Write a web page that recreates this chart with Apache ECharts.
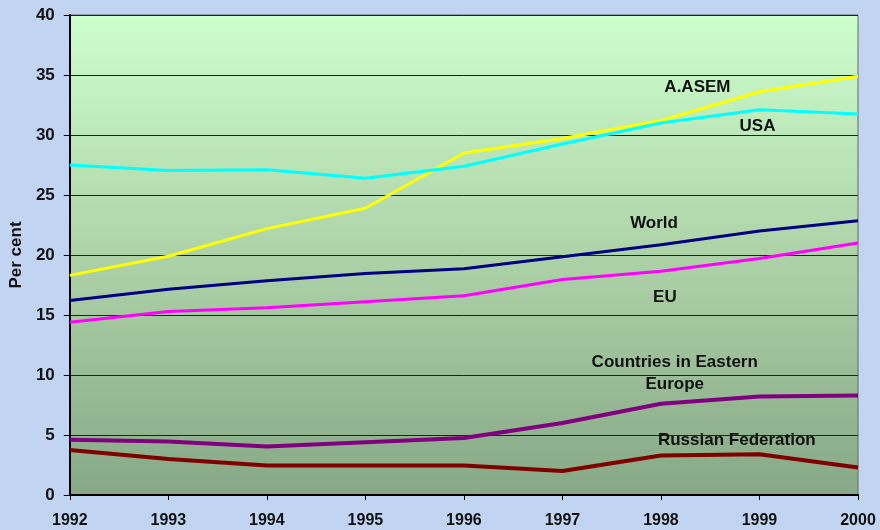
<!DOCTYPE html>
<html>
<head>
<meta charset="utf-8">
<script src="https://cdn.jsdelivr.net/npm/echarts@6/dist/echarts.min.js"></script>
<style>
  html, body { margin: 0; padding: 0; background: #c1d5f2; }
  #chart { width: 880px; height: 530px; }
</style>
</head>
<body>
<div id="chart"></div>
<script>
const years = [1992, 1993, 1994, 1995, 1996, 1997, 1998, 1999, 2000];
const asem = [18.3, 19.9, 22.2, 23.9, 28.5, 29.7, 31.2, 33.6, 34.9];
const usa = [27.5, 27.05, 27.1, 26.4, 27.4, 29.25, 31.0, 32.1, 31.75];
const world = [16.2, 17.15, 17.85, 18.45, 18.85, 19.85, 20.85, 22.0, 22.85];
const eu = [14.4, 15.3, 15.6, 16.1, 16.6, 17.95, 18.65, 19.7, 21.0];
const easternEurope = [4.6, 4.45, 4.05, 4.4, 4.75, 6.0, 7.6, 8.2, 8.3];
const russia = [3.75, 3.0, 2.45, 2.45, 2.45, 2.0, 3.3, 3.4, 2.3];

// where each name sits, in data units
const labelPos = {
    'A.ASEM': [1998.37, 34.0],
    'USA': [1998.98, 30.75],
    'World': [1997.93, 22.67],
    'EU': [1998.04, 16.5],
    'Countries in Eastern\nEurope': [1998.14, 10.17],
    'Russian Federation': [1998.77, 4.58]
};

function pairs(vals) {
    return years.map(function (y, i) { return [y, vals[i]]; });
}

function makeSeries(name, vals, color, width, labelText) {
    return {
        name: name,
        type: 'line',
        data: pairs(vals),
        symbol: 'none',
        lineStyle: {color: color, width: width},
        itemStyle: {color: color},
        z: 3,
        markPoint: {
            symbol: 'circle',
            symbolSize: 0,
            silent: true,
            label: {
                show: true,
                position: 'inside',
                formatter: labelText,
                color: '#111',
                fontFamily: 'Liberation Sans, Arial, sans-serif',
                fontWeight: 'bold',
                fontSize: 17,
                lineHeight: 22
            },
            data: [{coord: labelPos[labelText]}]
        }
    };
}

const myChart = echarts.init(document.getElementById('chart'));
const option = {
    backgroundColor: '#c1d5f2',
    animation: false,
    textStyle: {fontFamily: 'Liberation Sans, Arial, sans-serif'},
    grid: {
        left: 67,
        right: 22,
        top: 15,
        bottom: 35,
        show: true,
        borderColor: '#666',
        borderWidth: 1,
        backgroundColor: new echarts.graphic.LinearGradient(0, 0, 0, 1, [
            {offset: 0, color: '#ccffcc'},
            {offset: 0.5, color: '#aed2a8'},
            {offset: 1, color: '#86a886'}
        ])
    },
    xAxis: {
        type: 'value',
        min: 1992,
        max: 2000,
        interval: 1,
        axisLine: {lineStyle: {color: '#000', width: 2}},
        axisTick: {show: true, length: 5, lineStyle: {color: '#000'}},
        splitLine: {show: false},
        axisLabel: {
            color: '#111',
            fontWeight: 'bold',
            fontSize: 16,
            margin: 18,
            formatter: function (v) { return String(v); }
        }
    },
    yAxis: {
        type: 'value',
        min: 0,
        max: 40,
        interval: 5,
        name: 'Per cent',
        nameLocation: 'middle',
        nameGap: 44,
        nameTextStyle: {color: '#111', fontWeight: 'bold', fontSize: 17},
        axisLine: {show: true, lineStyle: {color: '#000', width: 2}},
        axisTick: {show: true, length: 6, lineStyle: {color: '#000'}},
        splitLine: {show: true, lineStyle: {color: '#222', width: 1}},
        axisLabel: {color: '#111', fontWeight: 'bold', fontSize: 17, margin: 15}
    },
    series: [
        makeSeries('A.ASEM', asem, '#ffff00', 3, 'A.ASEM'),
        makeSeries('USA', usa, '#00ffff', 3, 'USA'),
        makeSeries('World', world, '#000080', 3, 'World'),
        makeSeries('EU', eu, '#ff00ff', 3, 'EU'),
        makeSeries('Countries in Eastern Europe', easternEurope, '#800080', 4, 'Countries in Eastern\nEurope'),
        makeSeries('Russian Federation', russia, '#800000', 4, 'Russian Federation')
    ]
};
myChart.setOption(option);
</script>
</body>
</html>
